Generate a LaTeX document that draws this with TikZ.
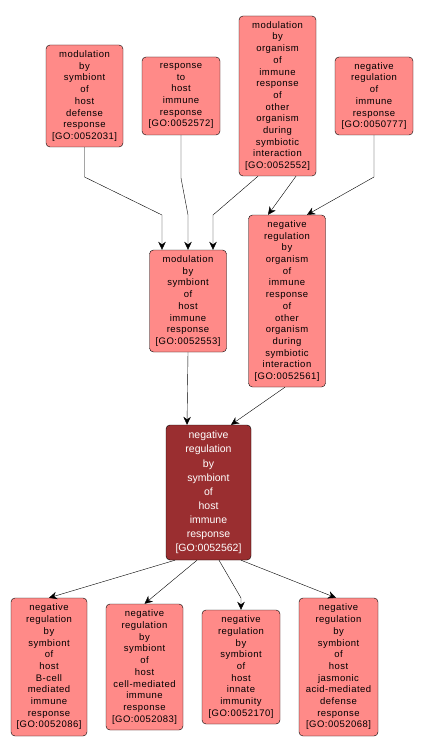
\documentclass[tikz,border=0pt]{standalone}
\usepackage{fontspec}
\setmainfont{Liberation Sans}
\newfontfamily\termfont[LetterSpace=5]{Liberation Sans}
\usetikzlibrary{arrows.meta}

\definecolor{termpink}{RGB}{255,138,136}
\definecolor{termdark}{RGB}{154,46,48}

\tikzset{
  term/.style={rectangle, rounded corners=4pt, draw=black, fill=termpink,
    inner sep=0pt, align=center,
    font=\termfont\fontsize{9.5}{11.7}\selectfont},
  focus/.style={term, fill=termdark, text=white,
    font=\fontsize{10.5}{14.1}\selectfont},
  edge/.style={-{Stealth[length=8pt,width=7.5pt]}, black}
}

\begin{document}
\begin{tikzpicture}[x=1pt,y=-1pt]
  \useasboundingbox (0,0) rectangle (423,754);

  % ancestors
  \node[term, minimum width=77pt, minimum height=102pt] (A) at (84.5,96)
    {modulation\\by\\symbiont\\of\\host\\defense\\response\\{[GO:0052031]}};
  \node[term, minimum width=78pt, minimum height=78pt] (B) at (181,96)
    {response\\to\\host\\immune\\response\\{[GO:0052572]}};
  \node[term, minimum width=77pt, minimum height=160pt] (C) at (277.5,96)
    {modulation\\by\\organism\\of\\immune\\response\\of\\other\\organism\\during\\symbiotic\\interaction\\{[GO:0052552]}};
  \node[term, minimum width=78pt, minimum height=78pt] (D) at (374,96)
    {negative\\regulation\\of\\immune\\response\\{[GO:0050777]}};

  % parents
  \node[term, minimum width=77pt, minimum height=102pt] (E) at (188,301)
    {modulation\\by\\symbiont\\of\\host\\immune\\response\\{[GO:0052553]}};
  \node[term, minimum width=77pt, minimum height=172pt] (F) at (287,301)
    {negative\\regulation\\by\\organism\\of\\immune\\response\\of\\other\\organism\\during\\symbiotic\\interaction\\{[GO:0052561]}};

  % the term itself
  \node[focus, minimum width=85pt, minimum height=135pt] (G) at (208.5,492.5)
    {negative\\regulation\\by\\symbiont\\of\\host\\immune\\response\\{[GO:0052562]}};

  % children
  \node[term, minimum width=76pt, minimum height=138pt] (H1) at (49,667)
    {negative\\regulation\\by\\symbiont\\of\\host\\B-cell\\mediated\\immune\\response\\{[GO:0052086]}};
  \node[term, minimum width=77pt, minimum height=126pt] (H2) at (144.5,667)
    {negative\\regulation\\by\\symbiont\\of\\host\\cell-mediated\\immune\\response\\{[GO:0052083]}};
  \node[term, minimum width=78pt, minimum height=114pt] (H3) at (241,667)
    {negative\\regulation\\by\\symbiont\\of\\host\\innate\\immunity\\{[GO:0052170]}};
  \node[term, minimum width=79pt, minimum height=138pt] (H4) at (338.5,667)
    {negative\\regulation\\by\\symbiont\\of\\host\\jasmonic\\acid-mediated\\defense\\response\\{[GO:0052068]}};

  % bends
  \coordinate (a1) at (84.5,177);
  \coordinate (a2) at (162,215);
  \coordinate (b1) at (181,178);
  \coordinate (b2) at (188,215);
  \coordinate (c1) at (213,215);
  \coordinate (d1) at (374,177);
  \coordinate (g1) at (241,598);

  \draw[edge] (A.south) -- (a1) -- (a2) -- ([xshift=-26pt]E.north);
  \draw[edge] (B.south) -- (b1) -- (b2) -- (E.north);
  \draw[edge] ([xshift=-19.5pt]C.south) -- (c1) -- ([xshift=25pt]E.north);
  \draw[edge] ([xshift=18.5pt]C.south) -- ([xshift=-19pt]F.north);
  \draw[edge] (D.south) -- (d1) -- ([xshift=20pt]F.north);

  \draw[edge] (E.south) -- ([xshift=-21.5pt]G.north);
  \draw[edge] ([xshift=-2pt]F.south) -- ([xshift=22.5pt]G.north);

  \draw[edge] ([xshift=-33.5pt]G.south) -- (H1.north);
  \draw[edge] ([xshift=-11.5pt]G.south) -- (H2.north);
  \draw[edge] ([xshift=10.5pt]G.south) -- (g1) -- (H3.north);
  \draw[edge] ([xshift=32.5pt]G.south) -- ([xshift=-2.5pt]H4.north);
\end{tikzpicture}
\end{document}
